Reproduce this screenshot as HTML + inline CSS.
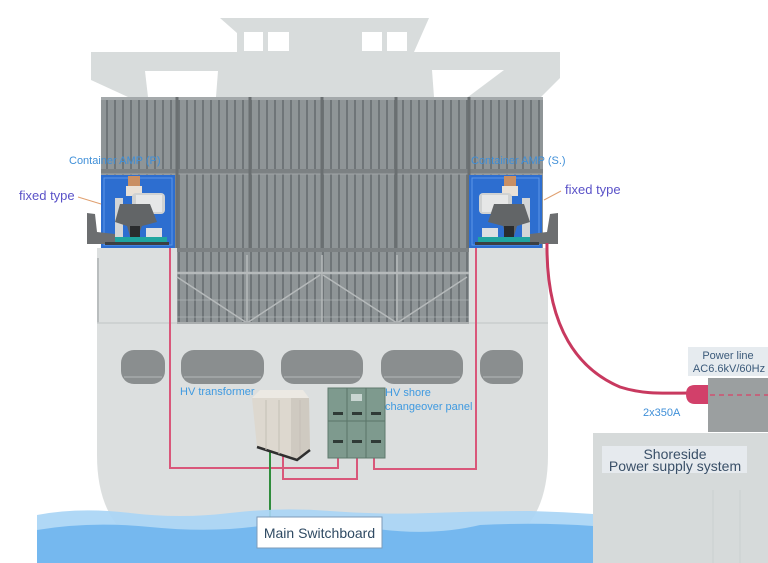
<!DOCTYPE html>
<html><head><meta charset="utf-8"><style>
html,body{margin:0;padding:0;background:#fff;width:768px;height:563px;overflow:hidden}
svg{display:block}
text{font-family:"Liberation Sans",sans-serif}
</style></head><body>
<svg width="768" height="563" viewBox="0 0 768 563" xmlns="http://www.w3.org/2000/svg">
<defs>
<pattern id="st" x="101" y="0" width="8" height="10" patternUnits="userSpaceOnUse">
<rect width="8" height="10" fill="#8f9597"/>
<rect x="5" width="2" height="10" fill="#6f7578"/>
</pattern>
</defs>
<rect width="768" height="563" fill="#fff"/>
<!-- superstructure -->
<polygon points="220,18 429,18 414,52 237,52 237,33" fill="#d8dcdc"/>
<polygon points="91,52 560,52 560,78 541,97 128,97 91,80" fill="#d8dcdc"/>
<polygon points="145,71 218,71 216,97 148,97" fill="#fff"/>
<polygon points="432,70 504,70 468,97 434,97" fill="#fff"/>
<rect x="244" y="32" width="19" height="19" fill="#fff"/>
<rect x="268" y="32" width="21" height="19" fill="#fff"/>
<rect x="362" y="32" width="20" height="19" fill="#fff"/>
<rect x="387" y="32" width="20" height="19" fill="#fff"/>
<!-- hull -->
<path d="M97,248 H548 V455 Q548,555 448,558 H197 Q97,555 97,455 Z" fill="#dcdfdf"/>
<line x1="98" y1="258" x2="98" y2="323" stroke="#b9bdbe" stroke-width="2"/>
<line x1="97" y1="323" x2="548" y2="323" stroke="#c9cdce" stroke-width="1.5"/>
<!-- containers -->
<rect x="101" y="97" width="442" height="151" fill="url(#st)"/>
<rect x="101" y="97" width="442" height="3" fill="#a4a9ab"/>
<rect x="101" y="169" width="442" height="5" fill="#7c8183"/>
<line x1="101" y1="174" x2="543" y2="174" stroke="#a0a5a7" stroke-width="1"/>
<g stroke="#6a6f71" stroke-width="3">
<line x1="177" y1="97" x2="177" y2="248"/><line x1="250" y1="97" x2="250" y2="248"/>
<line x1="322" y1="97" x2="322" y2="248"/><line x1="396" y1="97" x2="396" y2="248"/>
<line x1="469" y1="97" x2="469" y2="248"/>
</g>
<rect x="177" y="248" width="292" height="76" fill="url(#st)"/>
<rect x="177" y="248" width="292" height="4" fill="#7c8183"/>
<g stroke="#b6babb" fill="none">
<line x1="177" y1="273" x2="469" y2="273" stroke-width="2.5"/>
<line x1="177" y1="300" x2="469" y2="300" stroke-width="1" opacity=".6"/>
<line x1="177" y1="317" x2="469" y2="317" stroke-width="1" opacity=".6"/>
<polyline points="177,277 247,323 320,275" stroke-width="1.5"/>
<polyline points="323,275 397,323 467,277" stroke-width="1.5"/>
<line x1="247" y1="255" x2="247" y2="323" stroke-width="1.5"/>
<line x1="322" y1="255" x2="322" y2="323" stroke-width="1.5"/>
<line x1="397" y1="255" x2="397" y2="323" stroke-width="1.5"/>
</g>
<rect x="177" y="322" width="292" height="2" fill="#a9adae"/>
<!-- hull windows -->
<g fill="#8a8e8f">
<rect x="121" y="350" width="44" height="34" rx="13"/>
<rect x="181" y="350" width="83" height="34" rx="13"/>
<rect x="281" y="350" width="82" height="34" rx="13"/>
<rect x="381" y="350" width="82" height="34" rx="13"/>
<rect x="480" y="350" width="43" height="34" rx="13"/>
</g>
<g stroke="#a6aaab" stroke-width="1.5">
<line x1="124" y1="377" x2="162" y2="377"/><line x1="184" y1="377" x2="261" y2="377"/>
<line x1="284" y1="377" x2="360" y2="377"/><line x1="384" y1="377" x2="460" y2="377"/>
<line x1="483" y1="377" x2="520" y2="377"/>
</g>
<!-- red wiring -->
<g fill="none" stroke="#d9577a" stroke-width="2">
<polyline points="170,248 170,468 338,468 338,458"/>
<polyline points="283,452 283,479 357,479 357,458"/>
<polyline points="374,458 374,469 476,469 476,248"/>
</g>
<line x1="270" y1="452" x2="270" y2="518" stroke="#2f8c3c" stroke-width="2"/>
<!-- AMP boxes -->
<g>
<rect x="101" y="175" width="74" height="73" fill="#2d6ed0"/>
<rect x="104" y="178" width="68" height="67" fill="none" stroke="#5d97e8" stroke-width="1"/>
<polygon points="87,213 95,214 97,232 115,234 117,244 87,244" fill="#6c6e70"/>
<rect x="115" y="198" width="8" height="42" fill="#d3d5d6"/>
<rect x="128" y="176" width="12" height="20" fill="#c98f63"/>
<rect x="126" y="186" width="16" height="10" fill="#e9e1d7"/>
<rect x="132" y="193" width="33" height="21" rx="4" fill="#d0d2d2"/>
<rect x="136" y="195" width="26" height="17" fill="#e6e7e7"/>
<polygon points="120,204 150,204 157,222 142,226 138,236 130,236 127,226 115,222" fill="#626567"/>
<rect x="130" y="226" width="10" height="12" fill="#2a2c2e"/>
<rect x="146" y="228" width="16" height="9" fill="#dcdfe2"/>
<rect x="115" y="237" width="52" height="6" fill="#1fa5a0"/>
<rect x="105" y="242" width="64" height="3" fill="#3c3f42"/>
</g>
<g>
<rect x="469" y="175" width="73" height="73" fill="#2d6ed0"/>
<rect x="472" y="178" width="67" height="67" fill="none" stroke="#5d97e8" stroke-width="1"/>
<polygon points="558,213 550,214 547,232 530,234 528,244 558,244" fill="#6c6e70"/>
<rect x="522" y="198" width="8" height="42" fill="#d3d5d6"/>
<rect x="504" y="176" width="12" height="20" fill="#c98f63"/>
<rect x="502" y="186" width="16" height="10" fill="#e9e1d7"/>
<rect x="479" y="193" width="33" height="21" rx="4" fill="#d0d2d2"/>
<rect x="482" y="195" width="26" height="17" fill="#e6e7e7"/>
<polygon points="494,204 524,204 530,222 517,226 514,236 506,236 503,226 488,222" fill="#626567"/>
<rect x="504" y="226" width="10" height="12" fill="#2a2c2e"/>
<rect x="482" y="228" width="16" height="9" fill="#dcdfe2"/>
<rect x="478" y="237" width="52" height="6" fill="#1fa5a0"/>
<rect x="475" y="242" width="64" height="3" fill="#3c3f42"/>
</g>
<!-- labels AMP -->
<text x="69" y="164" font-size="11" fill="#3f8fd8">Container AMP (P)</text>
<text x="471" y="164" font-size="11" fill="#3f8fd8">Container AMP (S.)</text>
<text x="19" y="200" font-size="13" fill="#5a52c8">fixed type</text>
<text x="565" y="194" font-size="13" fill="#5a52c8">fixed type</text>
<line x1="78" y1="197" x2="101" y2="204" stroke="#e0a070" stroke-width="1"/>
<line x1="544" y1="200" x2="561" y2="191" stroke="#e0a070" stroke-width="1"/>
<!-- transformer -->
<polygon points="252,398 260,390 303,390 309,398" fill="#ece9e3"/>
<polygon points="252,398 309,398 310,450 297,460 257,447" fill="#ddd8cf"/>
<polygon points="291,398 309,398 310,450 297,460 291,456" fill="#cfcac1"/>
<polyline points="257,447 297,460 310,450" fill="none" stroke="#2f2f2f" stroke-width="2.5"/>
<g stroke="#c4bfb6" stroke-width="1"><line x1="266" y1="400" x2="266" y2="450"/><line x1="279" y1="400" x2="279" y2="454"/><line x1="300" y1="400" x2="300" y2="455"/></g>
<!-- panel -->
<rect x="328" y="388" width="57" height="70" fill="#7e9a8e"/>
<rect x="328" y="388" width="57" height="70" fill="none" stroke="#5f7a6e" stroke-width="1"/>
<g stroke="#5a7468" stroke-width="1"><line x1="347" y1="388" x2="347" y2="458"/><line x1="366" y1="388" x2="366" y2="458"/><line x1="328" y1="421" x2="385" y2="421"/></g>
<rect x="351" y="394" width="11" height="7" fill="#c9d6d2"/>
<g fill="#2f3a36">
<rect x="333" y="412" width="10" height="3"/><rect x="352" y="412" width="10" height="3"/><rect x="371" y="412" width="10" height="3"/>
<rect x="333" y="440" width="10" height="3"/><rect x="352" y="440" width="10" height="3"/><rect x="371" y="440" width="10" height="3"/>
</g>
<text x="180" y="395" font-size="11" fill="#3f9ae0">HV transformer</text>
<text x="385" y="396" font-size="11" fill="#3f9ae0">HV shore</text>
<text x="385" y="410" font-size="11" fill="#3f9ae0">changeover panel</text>
<!-- shore -->
<rect x="708" y="378" width="60" height="54" fill="#9b9fa0"/>
<line x1="710" y1="395" x2="768" y2="395" stroke="#d05070" stroke-width="1.5" stroke-dasharray="5,4"/>
<path d="M547,243 C546,330 580,370 620,387 C645,395 665,393 690,393" fill="none" stroke="#c8395f" stroke-width="3"/>
<path d="M708,385 H695 Q686,385 686,394 Q686,404 695,404 H708 Z" fill="#d2406a"/>
<rect x="688" y="347" width="80" height="29" fill="#e6ebef"/>
<text x="728" y="359" font-size="11" fill="#3b5a7a" text-anchor="middle">Power line</text>
<text x="729" y="372" font-size="11" fill="#3b5a7a" text-anchor="middle">AC6.6kV/60Hz</text>
<text x="643" y="416" font-size="11" fill="#3f8fd8">2x350A</text>
<rect x="593" y="433" width="175" height="130" fill="#d6dada"/>
<line x1="713" y1="490" x2="713" y2="563" stroke="#cbd0d0" stroke-width="1"/>
<line x1="740" y1="490" x2="740" y2="563" stroke="#cbd0d0" stroke-width="1"/>
<!-- water -->
<path d="M37,515 Q80,507 130,513 T230,513 T330,511 T430,513 T530,511 Q565,512 593,514 L593,563 L37,563 Z" fill="#a9d5f5" opacity="0.92"/>
<path d="M37,530 Q90,521 150,527 T260,526 T370,528 T480,525 Q540,522 593,526 L593,563 L37,563 Z" fill="#6fb5ee" opacity="0.9"/>
<rect x="602" y="446" width="145" height="27" fill="#e6eaee"/>
<text x="675" y="459" font-size="14" fill="#3a5068" text-anchor="middle">Shoreside</text>
<text x="675" y="471" font-size="14" fill="#3a5068" text-anchor="middle">Power supply system</text>
<!-- main switchboard -->
<rect x="257" y="517" width="125" height="31" fill="#fff" stroke="#7d9bb8" stroke-width="1"/>
<text x="319.5" y="538" font-size="14" fill="#2f4a63" text-anchor="middle">Main Switchboard</text>
</svg>
</body></html>
